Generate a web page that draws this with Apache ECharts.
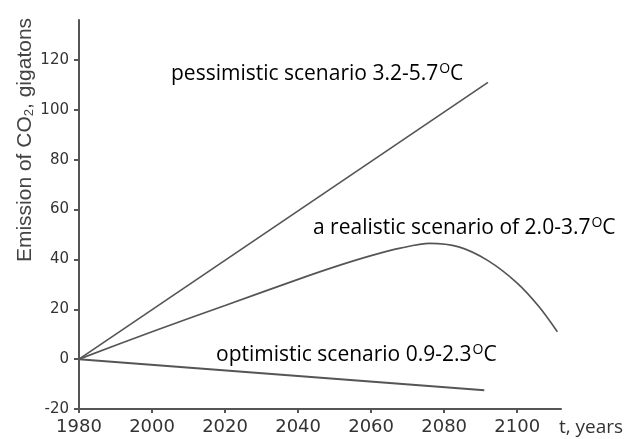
<!DOCTYPE html>
<html>
<head>
<meta charset="utf-8">
<script src="https://cdn.jsdelivr.net/npm/echarts@6/dist/echarts.min.js"></script>
<style>
  html, body { margin: 0; padding: 0; background: #fff; }
  #chart { width: 624px; height: 439px; }
</style>
</head>
<body>
<div id="chart"></div>
<script>
// 数据
var xTicks = [1980, 2000, 2020, 2040, 2060, 2080, 2100];
var yTicks = [-20, 0, 20, 40, 60, 80, 100, 120];
// 悲观情景
var pessYears = [1980, 2092];
var pessValues = [0, 111];
// 现实情景
var realYears = [1980, 2000, 2020, 2040, 2050, 2060, 2068, 2076, 2084, 2092, 2100, 2106, 2111];
var realValues = [0, 11, 21.5, 32, 37, 41.5, 44.5, 46.4, 45, 39.5, 30.5, 21, 11];
// 乐观情景
var optYears = [1980, 2091];
var optValues = [0, -12.5];

function pairs(xs, ys) {
  return xs.map(function (x, i) { return [x, ys[i]]; });
}

var lineColor = '#555';
var myChart = echarts.init(document.getElementById('chart'));

var supStyle = { fontSize: 14, fontFamily: 'Open Sans', color: '#222', padding: [0, 0, 10, 1] };
var txtStyle = { fontSize: 21, fontFamily: 'Open Sans', color: '#222' };

var option = {
  animation: false,
  grid: { left: 79, right: 63, top: 20, bottom: 30 },
  xAxis: {
    type: 'value',
    min: 1980,
    max: 2112,
    splitLine: { show: false },
    axisLine: { onZero: false, lineStyle: { color: lineColor, width: 2 } },
    axisTick: { customValues: xTicks, length: 4, lineStyle: { color: lineColor, width: 2 } },
    axisLabel: {
      customValues: xTicks,
      formatter: function (v) { return String(v); },
      color: '#333',
      fontSize: 18,
      fontFamily: 'DejaVu Sans',
      margin: 9
    }
  },
  yAxis: {
    type: 'value',
    min: -20,
    max: 136,
    splitLine: { show: false },
    axisLine: { onZero: false, lineStyle: { color: lineColor, width: 2 } },
    axisTick: { customValues: yTicks, length: 5, lineStyle: { color: lineColor, width: 2 } },
    axisLabel: {
      customValues: yTicks,
      color: '#333',
      fontSize: 15,
      fontFamily: 'DejaVu Sans',
      margin: 10
    }
  },
  series: [
    {
      name: 'pessimistic',
      type: 'line',
      data: pairs(pessYears, pessValues),
      showSymbol: false,
      lineStyle: { color: lineColor, width: 1.7 }
    },
    {
      name: 'realistic',
      type: 'line',
      data: pairs(realYears, realValues),
      smooth: 0.3,
      showSymbol: false,
      lineStyle: { color: lineColor, width: 1.7 }
    },
    {
      name: 'optimistic',
      type: 'line',
      data: pairs(optYears, optValues),
      showSymbol: false,
      lineStyle: { color: lineColor, width: 2 }
    }
  ],
  graphic: [
    {
      type: 'text',
      x: 25, y: 140,
      rotation: Math.PI / 2,
      style: {
        text: '{t|Emission of CO}{s|2}{t|, gigatons}',
        align: 'center',
        verticalAlign: 'middle',
        rich: {
          t: { fontSize: 21, fontFamily: 'Liberation Sans', fill: '#444' },
          s: { fontSize: 13, fontFamily: 'Liberation Sans', fill: '#444', padding: [9, 0, 0, 0] }
        }
      }
    },
    {
      type: 'text',
      x: 591, y: 428,
      style: {
        text: 't, years',
        align: 'center',
        verticalAlign: 'middle',
        fontSize: 19,
        fontFamily: 'Open Sans',
        fill: '#333'
      }
    },
    {
      type: 'text',
      x: 171, y: 74,
      style: {
        text: '{t|pessimistic scenario 3.2-5.7}{s|O}{t|C}',
        verticalAlign: 'middle',
        rich: { t: txtStyle, s: supStyle }
      }
    },
    {
      type: 'text',
      x: 313, y: 228,
      style: {
        text: '{t|a realistic scenario of 2.0-3.7}{s|O}{t|C}',
        verticalAlign: 'middle',
        rich: { t: txtStyle, s: supStyle }
      }
    },
    {
      type: 'text',
      x: 216, y: 355,
      style: {
        text: '{t|optimistic scenario 0.9-2.3}{s|O}{t|C}',
        verticalAlign: 'middle',
        rich: { t: txtStyle, s: supStyle }
      }
    }
  ]
};
myChart.setOption(option);
</script>
</body>
</html>
